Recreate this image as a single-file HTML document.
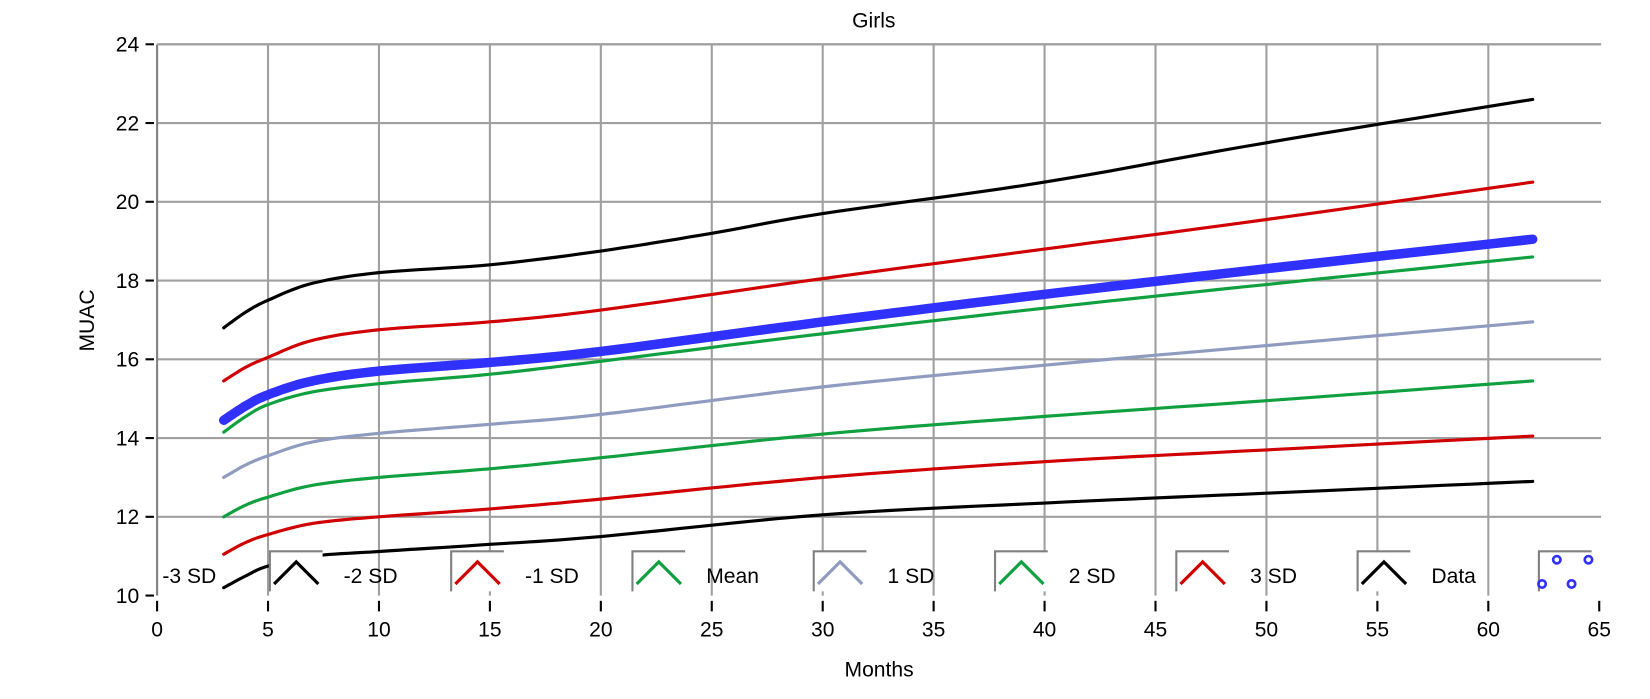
<!DOCTYPE html>
<html><head><meta charset="utf-8"><style>
html,body{margin:0;padding:0;background:#fff;}
svg text{font-family:"Liberation Sans",sans-serif;fill:#000;}
</style></head><body>
<svg id="s" width="1650" height="694" xmlns="http://www.w3.org/2000/svg">
<g transform="matrix(1.054,0,0,1.054,-1,-1)">
<text x="830" y="27" font-size="20" text-anchor="middle">Girls</text>
<text x="0" y="0" font-size="20" text-anchor="middle" transform="translate(90,305) rotate(-90)">MUAC</text>
<text x="835" y="643" font-size="20" text-anchor="middle">Months</text>
<g id="grid"></g>
<g id="curves"></g>
<g id="legend"></g>
</g>
</svg>
<script>
var NS="http://www.w3.org/2000/svg";
function X(m){return 150+m*21.05;}
function Y(v){return 566-(v-10)*37.36;}
function el(p,t,a,txt){var e=document.createElementNS(NS,t);for(var k in a)e.setAttribute(k,a[k]);if(txt!=null)e.textContent=txt;p.appendChild(e);return e;}
var g=document.getElementById('grid');
for(var v=12;v<=24;v+=2){el(g,'line',{x1:150,x2:1520,y1:Y(v),y2:Y(v),stroke:'#a0a0a0','stroke-width':2});}
for(var m=5;m<=60;m+=5){el(g,'line',{x1:X(m),x2:X(m),y1:43,y2:566,stroke:'#a0a0a0','stroke-width':2});}
el(g,'line',{x1:150,x2:150,y1:43,y2:566,stroke:'#808080','stroke-width':2});
el(g,'line',{x1:150,x2:1520,y1:43,y2:43,stroke:'#a0a0a0','stroke-width':2});
for(var v=10;v<=24;v+=2){el(g,'line',{x1:139,x2:147,y1:Y(v),y2:Y(v),stroke:'#000','stroke-width':2});
el(g,'text',{x:133,y:Y(v)+7,'font-size':20,'text-anchor':'end'},v);}
for(var m=0;m<=65;m+=5){el(g,'line',{x1:X(m),x2:X(m),y1:571,y2:581,stroke:'#000','stroke-width':2});
el(g,'text',{x:X(m),y:605,'font-size':20,'text-anchor':'middle'},m);}
var data=[
['#000',3,[[3,10.2],[4,10.5],[5,10.75],[7,11.0],[10,11.12],[15,11.3],[20,11.5],[30,12.05],[40,12.35],[50,12.6],[62,12.9]]],
['#d00000',3,[[3,11.05],[4,11.35],[5,11.55],[7,11.83],[10,12.0],[15,12.2],[20,12.45],[30,13.0],[40,13.4],[50,13.7],[62,14.05]]],
['#10a040',3,[[3,12.0],[4,12.3],[5,12.5],[7,12.8],[10,13.0],[15,13.22],[20,13.5],[30,14.1],[40,14.55],[50,14.95],[62,15.45]]],
['#8f9bbf',3,[[3,13.0],[4,13.32],[5,13.55],[7,13.9],[10,14.12],[15,14.35],[20,14.6],[30,15.3],[40,15.85],[50,16.35],[62,16.95]]],
['#10a040',3,[[3,14.15],[4,14.55],[5,14.85],[7,15.17],[10,15.38],[15,15.62],[20,15.95],[30,16.65],[40,17.3],[50,17.9],[62,18.6]]],
['#3030ff',9,[[3,14.45],[4,14.82],[5,15.1],[7,15.45],[10,15.7],[15,15.92],[20,16.2],[30,16.95],[40,17.65],[50,18.3],[62,19.05]]],
['#d00000',3,[[3,15.45],[4,15.8],[5,16.05],[7,16.48],[10,16.75],[15,16.95],[20,17.25],[30,18.05],[40,18.8],[50,19.55],[62,20.5]]],
['#000',3,[[3,16.8],[4,17.2],[5,17.5],[7,17.93],[10,18.2],[15,18.4],[20,18.75],[25,19.2],[30,19.7],[40,20.5],[50,21.5],[62,22.6]]]
];
var c=document.getElementById('curves');
data.forEach(function(d){var p=d[2],pts=[];
for(var i=0;i<p.length-1;i++){var p0=p[Math.max(0,i-1)],p1=p[i],p2=p[i+1],p3=p[Math.min(p.length-1,i+2)];
for(var t=0;t<1;t+=0.1){var t2=t*t,t3=t2*t;
var f=function(a,b,cc,dd){return 0.5*(2*b+(-a+cc)*t+(2*a-5*b+4*cc-dd)*t2+(-a+3*b-3*cc+dd)*t3);};
pts.push(X(f(p0[0],p1[0],p2[0],p3[0])).toFixed(1)+','+Y(f(p0[1],p1[1],p2[1],p3[1])).toFixed(1));}}
var l=p[p.length-1];pts.push(X(l[0])+','+Y(l[1]));
el(c,'polyline',{points:pts.join(' '),fill:'none',stroke:d[0],'stroke-width':d[1],'stroke-linecap':'round','stroke-linejoin':'round'});});
var lg=document.getElementById('legend');
var names=['-3 SD','-2 SD','-1 SD','Mean','1 SD','2 SD','3 SD','Data'];
var cols=['#000','#d00000','#10a040','#8f9bbf','#10a040','#d00000','#000'];
for(var i=0;i<8;i++){var bx=257+i*172;
el(lg,'text',{x:bx-102,y:554,'font-size':20},names[i]);
el(lg,'rect',{x:bx,y:524,width:50,height:38,fill:'#fff'});
el(lg,'polyline',{points:(bx)+',562 '+bx+',524 '+(bx+50)+',524',fill:'none',stroke:'#808080','stroke-width':2});
if(i<7){el(lg,'polyline',{points:(bx+4)+',555 '+(bx+25)+',534 '+(bx+46)+',555',fill:'none',stroke:cols[i],'stroke-width':3});}
else{[[17,532],[47,532],[3,555],[31,555]].forEach(function(q){el(lg,'circle',{cx:bx+q[0],cy:q[1],r:3.5,fill:'none',stroke:'#3030ff','stroke-width':2.5});});}
}
</script>
</body></html>
